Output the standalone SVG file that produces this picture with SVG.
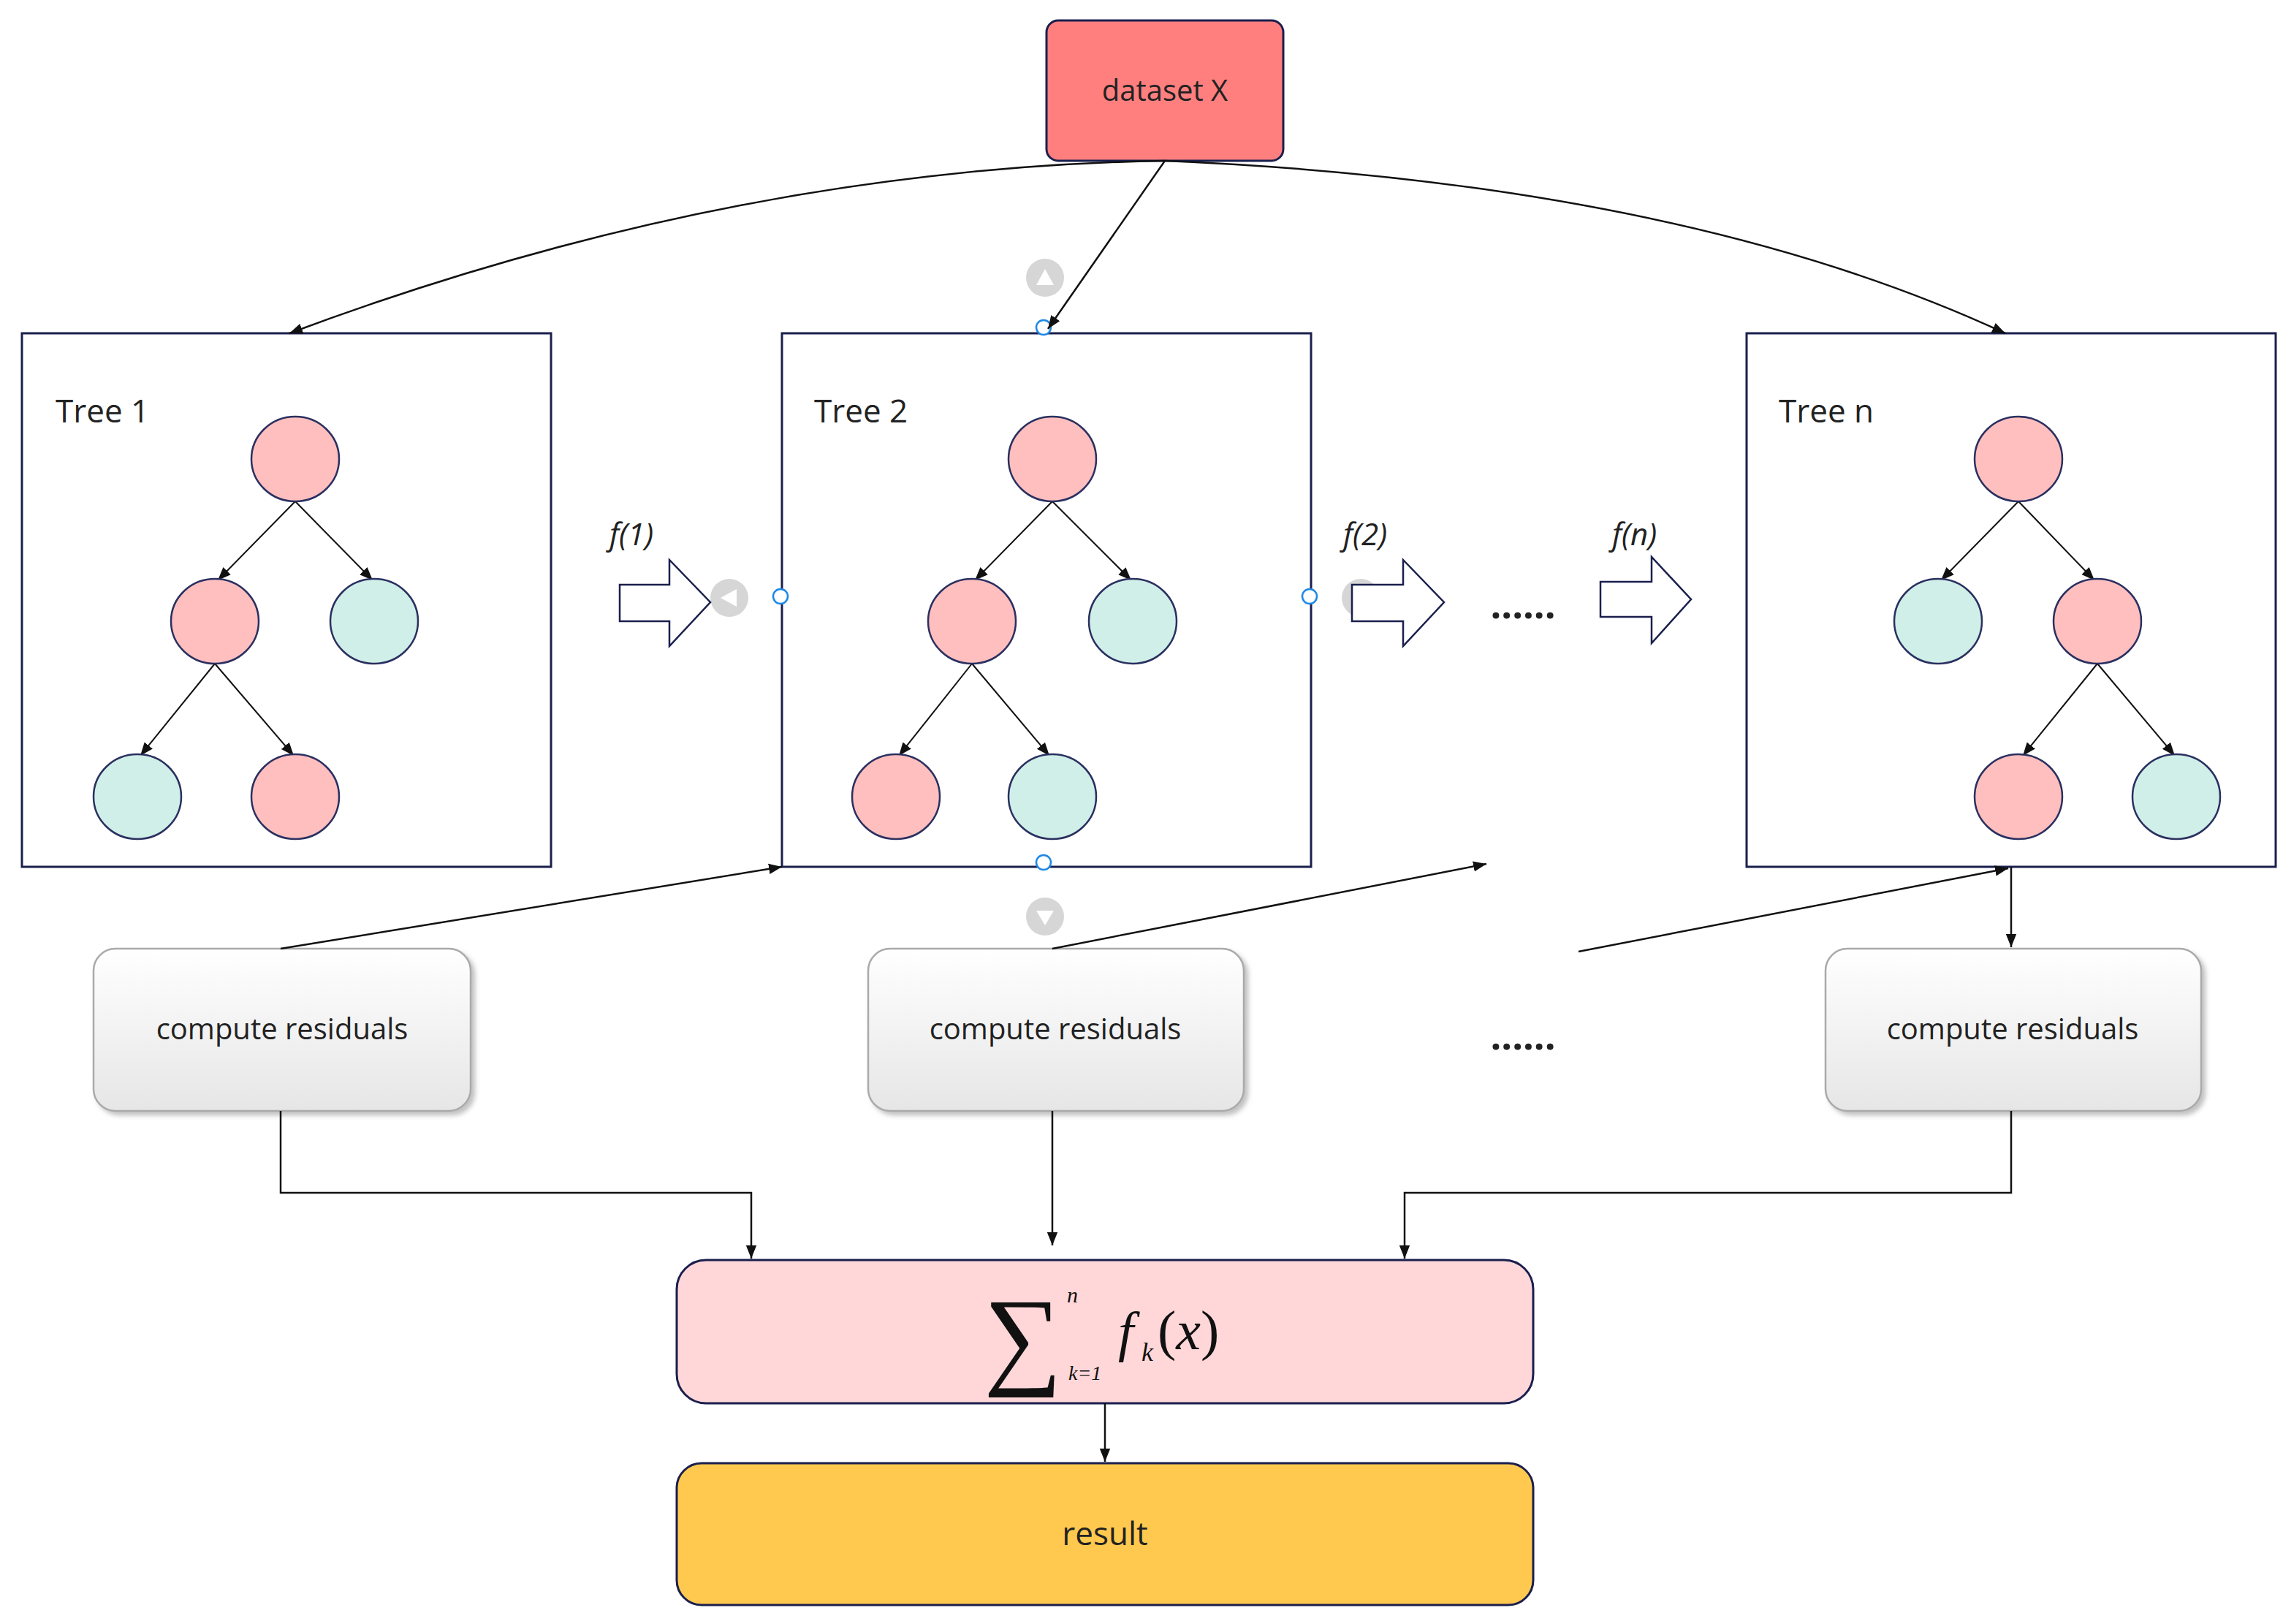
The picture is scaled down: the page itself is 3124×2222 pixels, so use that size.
<svg xmlns="http://www.w3.org/2000/svg" width="3124" height="2222" viewBox="0 0 3124 2222">
<defs>
<marker id="a" viewBox="0 0 10 10" refX="10" refY="5" markerWidth="18" markerHeight="18" orient="auto" markerUnits="userSpaceOnUse"><path d="M0,1 L10,5 L0,9 Z" fill="#111"/></marker>
<linearGradient id="g" x1="0" y1="0" x2="0" y2="1"><stop offset="0" stop-color="#ffffff"/><stop offset="1" stop-color="#e6e6e6"/></linearGradient>
<filter id="sh" x="-5%" y="-5%" width="115%" height="125%"><feDropShadow dx="5" dy="5" stdDeviation="3" flood-color="#999" flood-opacity="0.6"/></filter>
</defs>
<style>
.t{font-family:"Open Sans","Liberation Sans",sans-serif;fill:#222}
.box{fill:#fff;stroke:#1a1f4d;stroke-width:3}
.p{fill:#FFBFBF;stroke:#2a3060;stroke-width:2.5}
.gr{fill:#D0EFE8;stroke:#2a3060;stroke-width:2.5}
.e{stroke:#111;stroke-width:2;fill:none;marker-end:url(#a)}
.c{stroke:#111;stroke-width:2.5;fill:none;marker-end:url(#a)}
.res{fill:url(#g);stroke:#aaa;stroke-width:2.5;filter:url(#sh)}
.ha{fill:#fff;stroke:#1a1f4d;stroke-width:2.5}
.h{fill:#fff;stroke:#1e88e5;stroke-width:2.5}
.gh{fill:#d6d6d6}
.m{font-family:"Liberation Serif",serif;fill:#111}
</style>
<g id="dataset"><rect x="1432" y="28" width="324" height="192" rx="16" fill="#FF7F7F" stroke="#1a1f4d" stroke-width="3"/><text class="t" x="1594" y="138" font-size="40" text-anchor="middle">dataset X</text></g>
<g id="tree1"><rect class="box" x="30" y="456" width="724" height="730"/><text class="t" x="76" y="578" font-size="44">Tree 1</text>
<line class="e" x1="404" y1="686" x2="298" y2="794"/><line class="e" x1="404" y1="686" x2="510" y2="794"/>
<line class="e" x1="294" y1="908" x2="192" y2="1034"/><line class="e" x1="294" y1="908" x2="402" y2="1034"/>
<ellipse class="p" cx="404" cy="628" rx="60" ry="58"/><ellipse class="p" cx="294" cy="850" rx="60" ry="58"/><ellipse class="gr" cx="512" cy="850" rx="60" ry="58"/><ellipse class="gr" cx="188" cy="1090" rx="60" ry="58"/><ellipse class="p" cx="404" cy="1090" rx="60" ry="58"/></g>
<g id="tree2"><rect class="box" x="1070" y="456" width="724" height="730"/><text class="t" x="1114" y="578" font-size="44">Tree 2</text>
<line class="e" x1="1440" y1="686" x2="1334" y2="794"/><line class="e" x1="1440" y1="686" x2="1548" y2="794"/>
<line class="e" x1="1330" y1="908" x2="1230" y2="1034"/><line class="e" x1="1330" y1="908" x2="1436" y2="1034"/>
<ellipse class="p" cx="1440" cy="628" rx="60" ry="58"/><ellipse class="p" cx="1330" cy="850" rx="60" ry="58"/><ellipse class="gr" cx="1550" cy="850" rx="60" ry="58"/><ellipse class="p" cx="1226" cy="1090" rx="60" ry="58"/><ellipse class="gr" cx="1440" cy="1090" rx="60" ry="58"/></g>
<g id="treen"><rect class="box" x="2390" y="456" width="724" height="730"/><text class="t" x="2434" y="578" font-size="44">Tree n</text>
<line class="e" x1="2762" y1="686" x2="2656" y2="794"/><line class="e" x1="2762" y1="686" x2="2866" y2="794"/>
<line class="e" x1="2870" y1="908" x2="2768" y2="1034"/><line class="e" x1="2870" y1="908" x2="2976" y2="1034"/>
<ellipse class="p" cx="2762" cy="628" rx="60" ry="58"/><ellipse class="gr" cx="2652" cy="850" rx="60" ry="58"/><ellipse class="p" cx="2870" cy="850" rx="60" ry="58"/><ellipse class="p" cx="2762" cy="1090" rx="60" ry="58"/><ellipse class="gr" cx="2978" cy="1090" rx="60" ry="58"/></g>
<g id="handles">
<circle class="gh" cx="1430" cy="380" r="26"/><circle class="gh" cx="998" cy="818" r="26"/><circle class="gh" cx="1862" cy="818" r="26"/><circle class="gh" cx="1430" cy="1254" r="26"/>
<path d="M1418,390 L1442,390 L1430,368 Z M986,818 L1008,806 L1008,830 Z M1874,818 L1852,806 L1852,830 Z M1418,1246 L1442,1246 L1430,1266 Z" fill="#fff"/>
<circle class="h" cx="1428" cy="448" r="10"/><circle class="h" cx="1068" cy="816" r="10"/><circle class="h" cx="1792" cy="816" r="10"/><circle class="h" cx="1428" cy="1180" r="10"/>
</g>
<g id="arrows">
<path class="ha" d="M848,800 L916,800 L916,766 L972,824 L916,884 L916,850 L848,850 Z"/>
<path class="ha" d="M1850,800 L1920,800 L1920,766 L1976,824 L1920,884 L1920,850 L1850,850 Z"/>
<path class="ha" d="M2190,796 L2260,796 L2260,762 L2314,820 L2260,880 L2260,844 L2190,844 Z"/>
<text class="t" x="834" y="746" font-size="42" font-style="italic">f(1)</text>
<text class="t" x="1838" y="746" font-size="42" font-style="italic">f(2)</text>
<text class="t" x="2206" y="746" font-size="42" font-style="italic">f(n)</text>
<text class="t" x="2084" y="846" font-size="52" font-weight="bold" text-anchor="middle">......</text>
<text class="t" x="2084" y="1436" font-size="52" font-weight="bold" text-anchor="middle">......</text>
</g>
<g id="res1"><rect class="res" x="128" y="1298" width="516" height="222" rx="30"/><text class="t" x="386" y="1422" font-size="40" text-anchor="middle">compute residuals</text></g>
<g id="res2"><rect class="res" x="1188" y="1298" width="514" height="222" rx="30"/><text class="t" x="1444" y="1422" font-size="40" text-anchor="middle">compute residuals</text></g>
<g id="res3"><rect class="res" x="2498" y="1298" width="514" height="222" rx="30"/><text class="t" x="2754" y="1422" font-size="40" text-anchor="middle">compute residuals</text></g>
<g id="sum"><rect x="926" y="1724" width="1172" height="196" rx="40" fill="#FFD7D9" stroke="#1a1f4d" stroke-width="3"/>
<text class="m" x="1346" y="1880" font-size="150">∑</text>
<text class="m" x="1460" y="1782" font-size="30" font-style="italic">n</text>
<text class="m" x="1462" y="1888" font-size="28" font-style="italic">k=1</text>
<text class="m" x="1530" y="1848" font-size="76" font-style="italic">f</text>
<text class="m" x="1562" y="1862" font-size="36" font-style="italic">k</text>
<text class="m" x="1584" y="1846" font-size="76">(<tspan font-style="italic">x</tspan>)</text></g>
<g id="result"><rect x="926" y="2002" width="1172" height="194" rx="34" fill="#FFC94F" stroke="#1a1f4d" stroke-width="3"/><text class="t" x="1512" y="2114" font-size="44" text-anchor="middle">result</text></g>
<g id="connectors">
<path class="c" d="M1594,220 Q1000,230 396,456"/>
<path class="c" d="M1594,220 Q2300,250 2744,456"/>
<path class="c" d="M1594,220 L1434,450"/>
<path class="c" d="M384,1298 L1070,1186"/>
<path class="c" d="M1440,1298 L2034,1182"/>
<path class="c" d="M2160,1302 L2748,1188"/>
<path class="c" d="M2752,1186 L2752,1296"/>
<path class="c" d="M384,1520 L384,1632 L1028,1632 L1028,1722"/>
<path class="c" d="M1440,1520 L1440,1704"/>
<path class="c" d="M2752,1520 L2752,1632 L1922,1632 L1922,1722"/>
<path class="c" d="M1512,1920 L1512,2000"/>
</g>
</svg>
